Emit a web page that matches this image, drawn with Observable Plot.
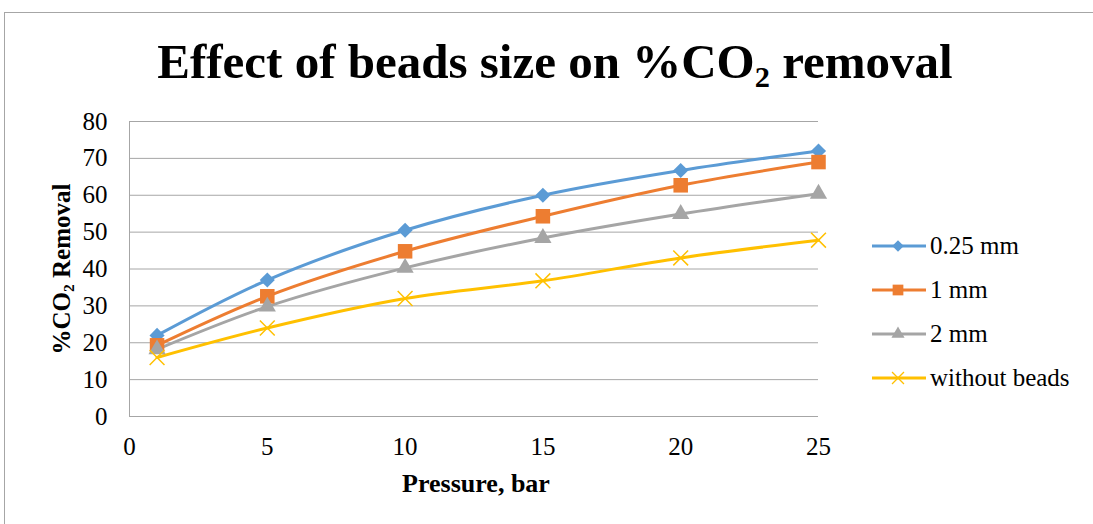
<!DOCTYPE html>
<html>
<head>
<meta charset="utf-8">
<script src="https://cdn.jsdelivr.net/npm/d3@7"></script>
<script src="https://cdn.jsdelivr.net/npm/@observablehq/plot@0.6"></script>
<style>
  html, body { margin: 0; padding: 0; background: #fff; }
  #wrap { position: relative; width: 1093px; height: 524px; overflow: hidden; font-family: "Liberation Serif", "Times New Roman", serif; color: #000; }
  #frame { position: absolute; left: 4px; top: 12px; width: 1200px; height: 600px; border: 1px solid #a6a6a6; box-sizing: border-box; }
  #chart { position: absolute; left: 0; top: 0; }
  .title { position: absolute; left: 0; width: 1110px; top: 37px; text-align: center; font-weight: bold; font-size: 49px; line-height: 1; white-space: nowrap; }
  .title sub, .ylab sub { font-size: 0.62em; vertical-align: -0.3em; line-height: 0; }
  .xlab { position: absolute; left: 326px; width: 300px; top: 471px; text-align: center; font-weight: bold; font-size: 26px; line-height: 1; white-space: nowrap; }
  .ylab { position: absolute; left: 61px; top: 269px; transform: translate(-50%, -50%) rotate(-90deg); font-weight: bold; font-size: 25px; line-height: 1; white-space: nowrap; }
  .legend { position: absolute; left: 871px; top: 224px; font-size: 25px; }
  .legend .row { display: flex; align-items: center; height: 44px; }
  .legend svg { margin-right: 3px; }
</style>
</head>
<body>
<div id="wrap">
  <div id="frame"></div>
  <div id="chart"></div>
  <div class="title">Effect of beads size on %CO<sub>2</sub> removal</div>
  <div class="xlab">Pressure, bar</div>
  <div class="ylab">%CO<sub>2</sub> Removal</div>
  <div class="legend" id="legend"></div>
</div>
<script>
const pressure = [1, 5, 10, 15, 20, 25];
const seriesNames = ["0.25 mm", "1 mm", "2 mm", "without beads"];
const s025 = [22.0, 37.0, 50.5, 60.0, 66.7, 72.0];
const s1 = [19.3, 32.6, 44.8, 54.3, 62.7, 69.0];
const s2 = [18.2, 29.8, 40.3, 48.4, 54.9, 60.4];
const sNone = [16.0, 24.0, 32.0, 36.8, 43.0, 47.8];
const xTicks = [0, 5, 10, 15, 20, 25];
const yTicks = [0, 10, 20, 30, 40, 50, 60, 70, 80];
const colors = ["#5B9BD5", "#ED7D31", "#A5A5A5", "#FFC000"];
const symbols = ["diamond2", "square", "triangle", "times"];
const markerR = [6.8, 8.2, 6.4, 6.8];

const allSeries = [s025, s1, s2, sNone];
const data = [];
allSeries.forEach((vals, i) => {
  vals.forEach((v, j) => data.push({series: seriesNames[i], p: pressure[j], v}));
});

const dotMarks = seriesNames.map((name, i) => {
  const subset = data.filter(d => d.series === name);
  return i === 3
    ? Plot.dot(subset, {x: "p", y: "v", symbol: () => symbols[i], stroke: colors[i], fill: "none", strokeWidth: 1.5, r: markerR[i]})
    : Plot.dot(subset, {x: "p", y: "v", symbol: () => symbols[i], fill: colors[i], stroke: "none", r: markerR[i]});
});

const plot = Plot.plot({
  width: 1093,
  height: 524,
  marginLeft: 129,
  marginRight: 275,
  marginTop: 121,
  marginBottom: 108,
  style: {fontFamily: "'Liberation Serif', 'Times New Roman', serif", fontSize: "25px", color: "#000", background: "transparent"},
  x: {domain: [0, 25], label: null},
  y: {domain: [0, 80], label: null},
  color: {domain: seriesNames, range: colors},
  symbol: {type: "identity"},
  marks: [
    Plot.gridY(yTicks, {stroke: "#a6a6a6", strokeOpacity: 1, strokeWidth: 1}),
    Plot.ruleX([0], {stroke: "#a6a6a6", strokeWidth: 1}),
    Plot.axisX({ticks: xTicks, tickSize: 0, tickPadding: 21, fontSize: 25, fill: "#000", label: null}),
    Plot.axisY({ticks: yTicks, tickSize: 0, tickPadding: 22, fontSize: 25, fill: "#000", label: null}),
    Plot.line(data, {x: "p", y: "v", z: "series", stroke: "series", strokeWidth: 3, curve: "catmull-rom"}),
    ...dotMarks
  ]
});
document.getElementById("chart").appendChild(plot);

// legend built from the same arrays
const legend = d3.select("#legend");
const legendSym = [d3.symbolDiamond2, d3.symbolSquare, d3.symbolTriangle, d3.symbolTimes];
const legendSize = [85, 115, 75, 95];
seriesNames.forEach((name, i) => {
  const row = legend.append("div").attr("class", "row");
  const svg = row.append("svg").attr("width", 56).attr("height", 20);
  svg.append("line").attr("x1", 1).attr("x2", 55).attr("y1", 10).attr("y2", 10)
    .attr("stroke", colors[i]).attr("stroke-width", 3);
  const path = d3.symbol(legendSym[i], legendSize[i])();
  const g = svg.append("path").attr("d", path).attr("transform", "translate(27,10)");
  if (i === 3) g.attr("fill", "none").attr("stroke", colors[i]).attr("stroke-width", 1.3);
  else g.attr("fill", colors[i]);
  row.append("span").text(name);
});
</script>
</body>
</html>
